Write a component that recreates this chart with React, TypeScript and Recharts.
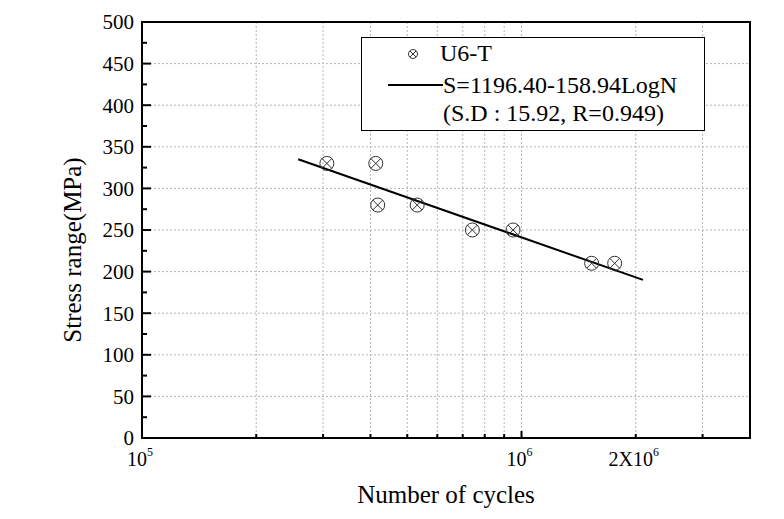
import React from "react";
import {
  ComposedChart,
  Line,
  Scatter,
  XAxis,
  YAxis,
  CartesianGrid,
  ReferenceLine,
  ReferenceArea,
  Legend,
  Label,
} from "recharts";

const SERIF = "'Liberation Serif', 'DejaVu Serif', 'Noto Serif', serif";

// test points (cycles, stress range)
const cycles = [3.07e5, 4.13e5, 4.18e5, 5.31e5, 7.42e5, 9.5e5, 1.53e6, 1.76e6];
const stress = [330, 330, 280, 280, 250, 250, 210, 210];

// regression line end points
const fitCycles = [2.58e5, 2.09e6];
const fitStress = [335, 190];

const xTicks = [1e5, 2e5, 3e5, 4e5, 5e5, 6e5, 7e5, 8e5, 9e5, 1e6, 2e6, 3e6];
const xMajor = [1e5, 1e6];
const xLabelValues = [1e5, 1e6, 2e6];
const xLabelBase = ["10", "10", "2X10"];
const xLabelExp = ["5", "6", "6"];

const yTicks = [
  0, 25, 50, 75, 100, 125, 150, 175, 200, 225, 250, 275, 300, 325, 350, 375,
  400, 425, 450, 475, 500,
];
const yGrid = [50, 100, 150, 200, 250, 300, 350, 400, 450];

const seriesName = "U6-T";
const fitName = "S=1196.40-158.94LogN";
const fitNote = "(S.D : 15.92, R=0.949)";

const points = cycles.map((n, i) => ({ n, s: stress[i] }));
const fitLine = fitCycles.map((n, i) => ({ n, s: fitStress[i] }));

function CrossCircle(props: any) {
  const { cx, cy } = props;
  const r = 7;
  const d = r * 0.72;
  return (
    <g stroke="#333" strokeWidth={1} fill="none">
      <circle cx={cx} cy={cy} r={r} />
      <line x1={cx - d} y1={cy - d} x2={cx + d} y2={cy + d} />
      <line x1={cx - d} y1={cy + d} x2={cx + d} y2={cy - d} />
    </g>
  );
}

function YTick(props: any) {
  const { x, y, payload } = props;
  const v = payload.value;
  const ax = x + 8;
  const major = v % 50 === 0;
  return (
    <g>
      {v > 0 && v < 500 && (
        <line x1={ax} x2={ax + (major ? 9 : 5)} y1={y} y2={y} stroke="#000" strokeWidth={2} />
      )}
      {major && (
        <text x={x} y={y} dy="0.35em" textAnchor="end" fontSize={21} style={{ fontFamily: SERIF }} fill="#000">
          {v}
        </text>
      )}
    </g>
  );
}

function XTick(props: any) {
  const { x, y, payload } = props;
  const v = payload.value;
  const li = xLabelValues.indexOf(v);
  const major = xMajor.includes(v);
  return (
    <g>
      {v > 1e5 && (
        <line x1={x} x2={x} y1={y} y2={y - (major ? 7 : 4)} stroke="#000" strokeWidth={2} />
      )}
      {li >= 0 && (
        <text x={x - 2} y={y + 28} textAnchor="middle" fontSize={20} style={{ fontFamily: SERIF }} fill="#000">
          <tspan>{xLabelBase[li]}</tspan>
          <tspan dy={-10} fontSize={12}>
            {xLabelExp[li]}
          </tspan>
        </text>
      )}
    </g>
  );
}

function YTitle(props: any) {
  const { viewBox } = props;
  const cx = viewBox.x + 81;
  const cy = viewBox.y + viewBox.height / 2 + 20;
  return (
    <text
      transform={`translate(${cx},${cy}) rotate(-90)`}
      textAnchor="middle"
      fontSize={25}
      style={{ fontFamily: SERIF }}
      fill="#000"
    >
      Stress range(MPa)
    </text>
  );
}

function LegendBox() {
  const row = (top: number, left: number, text: string) => (
    <div style={{ position: "absolute", left, top, lineHeight: "30px", whiteSpace: "nowrap" }}>{text}</div>
  );
  return (
    <div
      style={{
        position: "relative",
        width: 344,
        height: 94,
        boxSizing: "border-box",
        border: "1px solid #000",
        background: "#fff",
        fontFamily: SERIF,
        fontSize: 24,
        color: "#000",
      }}
    >
      <svg width={344} height={94} style={{ position: "absolute", left: 0, top: 0 }}>
        <g stroke="#333" strokeWidth={1} fill="none">
          <circle cx={51} cy={16} r={4.5} />
          <line x1={48} y1={13} x2={54} y2={19} />
          <line x1={48} y1={19} x2={54} y2={13} />
        </g>
        <line x1={26} x2={81} y1={47} y2={47} stroke="#000" strokeWidth={2} />
      </svg>
      {row(0, 78, seriesName)}
      {row(32, 81, fitName)}
      {row(60, 81, fitNote)}
    </div>
  );
}

export default function App() {
  return (
    <div style={{ position: "absolute", left: 0, top: 0, width: 784, height: 519, background: "#fff" }}>
      <ComposedChart width={784} height={519} margin={{ top: 22, right: 34, bottom: 0, left: 0 }}>
        <CartesianGrid horizontal={false} stroke="#b5b5b5" strokeDasharray="2 2" />
        {yGrid.map((v) => (
          <ReferenceLine key={v} y={v} stroke="#b5b5b5" strokeDasharray="2 2" />
        ))}
        <XAxis
          dataKey="n"
          type="number"
          scale="log"
          domain={[1e5, 4e6]}
          allowDataOverflow
          ticks={xTicks}
          interval={0}
          tick={<XTick />}
          tickLine={false}
          tickSize={0}
          tickMargin={0}
          height={81}
          axisLine={{ stroke: "#000", strokeWidth: 2 }}
        >
          <Label
            value="Number of cycles"
            position="insideBottom"
            offset={16}
            style={{ fontSize: 25, fontFamily: SERIF, fill: "#000" }}
          />
        </XAxis>
        <YAxis
          type="number"
          domain={[0, 500]}
          ticks={yTicks}
          interval={0}
          tick={<YTick />}
          tickLine={false}
          tickSize={0}
          tickMargin={8}
          width={142}
          axisLine={{ stroke: "#000", strokeWidth: 2 }}
        >
          <Label content={<YTitle />} />
        </YAxis>
        <ReferenceArea x1={1e5} x2={4e6} y1={0} y2={500} fill="none" stroke="#000" strokeWidth={2} />
        <Line
          data={fitLine}
          dataKey="s"
          name={fitName}
          type="linear"
          stroke="#000"
          strokeWidth={2}
          dot={false}
          isAnimationActive={false}
        />
        <Scatter
          data={points}
          dataKey="s"
          name={seriesName}
          shape={<CrossCircle />}
          isAnimationActive={false}
        />
        <Legend
          layout="vertical"
          align="center"
          verticalAlign="middle"
          wrapperStyle={{ left: 361, top: 37, width: 344 }}
          content={<LegendBox />}
        />
      </ComposedChart>
    </div>
  );
}
